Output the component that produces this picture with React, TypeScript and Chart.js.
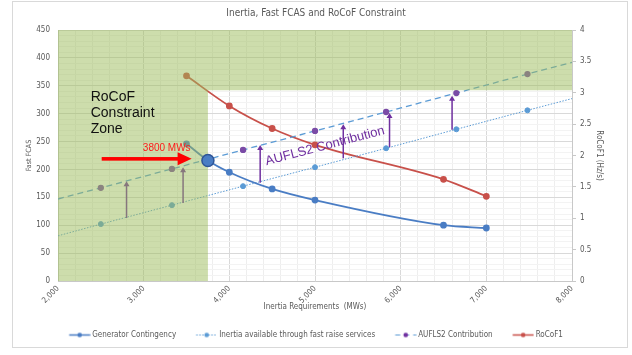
import React, { useEffect, useRef } from 'react';
import { Chart, registerables } from 'chart.js';

Chart.register(...registerables);

// ---------- data ----------
const titleText = 'Inertia, Fast FCAS and RoCoF Constraint';
const xTitle = 'Inertia Requirements  (MWs)';
const yTitle = 'Fast FCAS';
const y1Title = 'RoCoF1 (Hz/s)';

const genX = [3500, 3750, 4000, 4500, 5000, 6500, 7000];
const genY = [246, 216, 195, 165, 145, 100, 95];

const crossX = [3750];
const crossY = [216];

const inertiaX = [2000, 2500, 3330, 4160, 5000, 5830, 6650, 7480, 8000];
const inertiaY = [81, 102, 136, 170, 204, 238, 272, 306, 327];

const auflsX = [2000, 2500, 3330, 4160, 5000, 5830, 6650, 7480, 8000];
const auflsY = [147, 167, 201, 235, 269, 303, 337, 371, 392];

const rocofX = [3500, 4000, 4500, 5000, 6500, 7000];
const rocofY = [3.27, 2.79, 2.43, 2.17, 1.62, 1.35];

const arrowX = [2800, 3460, 4360, 5330, 5870, 6600];
const arrowFrom = [113, 140, 176, 220, 240, 271];
const arrowTo = [179, 204, 244, 281, 301, 332];

const zoneRightX = 3750;
const zoneBottomY = 342;

const zoneLabel = ['RoCoF', 'Constraint', 'Zone'];
const zoneLabelAt = { x: 2382, y: 329 };
const mwLabel = '3800 MWs';
const mwLabelAt = { x: 3269, y: 238 };
const redArrow = { x0: 2510, x1: 3560, y: 219 };
const contribLabel = 'AUFLS2 Contribution';
const contribAt = { x: 5117, y: 242 };

const legendNames = [
  'Generator Contingency',
  'Inertia available through fast raise services',
  'AUFLS2 Contribution',
  'RoCoF1',
];

// ---------- style ----------
const NARROW = '"DejaVu Sans Condensed", "Liberation Sans Narrow", sans-serif';
const SANS = '"Liberation Sans", Arial, sans-serif';
const TXT = '#595959';
const C_GEN = '#4a7dc4';
const C_INERTIA = '#5b9bd5';
const C_PURPLE = '#7030a0';
const C_RED = '#c8504a';
const MARKER_INDEX = 1;

const toXY = (xs: number[], ys: number[]) => xs.map((x, i) => ({ x, y: ys[i] }));

function makeIcon(line: string, point: string, dash: number[], lw: number) {
  const c = document.createElement('canvas');
  c.width = 24;
  c.height = 9;
  const g = c.getContext('2d') as CanvasRenderingContext2D;
  g.strokeStyle = line;
  g.lineWidth = lw;
  g.setLineDash(dash);
  g.beginPath();
  g.moveTo(2.5, 4.5);
  g.lineTo(23.5, 4.5);
  g.stroke();
  g.setLineDash([]);
  g.fillStyle = point;
  g.beginPath();
  g.arc(13, 4.5, 2.3, 0, Math.PI * 2);
  g.fill();
  return c;
}

function drawArrowsAndZone(chart: any) {
  const { ctx, chartArea: a } = chart;
  const x = chart.scales.x;
  const y = chart.scales.y;
  ctx.save();
  ctx.strokeStyle = C_PURPLE;
  ctx.fillStyle = C_PURPLE;
  ctx.lineWidth = 1.5;
  arrowX.forEach((v, i) => {
    const px = x.getPixelForValue(v);
    const p0 = y.getPixelForValue(arrowFrom[i]);
    const p1 = y.getPixelForValue(arrowTo[i]);
    ctx.beginPath();
    ctx.moveTo(px, p0);
    ctx.lineTo(px, p1 + 4);
    ctx.stroke();
    ctx.beginPath();
    ctx.moveTo(px, p1);
    ctx.lineTo(px - 3, p1 + 5);
    ctx.lineTo(px + 3, p1 + 5);
    ctx.closePath();
    ctx.fill();
  });
  const zx = x.getPixelForValue(zoneRightX);
  const zy = y.getPixelForValue(zoneBottomY);
  ctx.fillStyle = 'rgba(155,187,89,0.5)';
  ctx.beginPath();
  ctx.moveTo(a.left, a.top);
  ctx.lineTo(a.right, a.top);
  ctx.lineTo(a.right, zy);
  ctx.lineTo(zx, zy);
  ctx.lineTo(zx, a.bottom);
  ctx.lineTo(a.left, a.bottom);
  ctx.closePath();
  ctx.fill();
  ctx.restore();
}

const overlayPlugin = {
  id: 'overlayPlugin',
  beforeDraw(chart: any) {
    const ctx = chart.ctx;
    ctx.save();
    ctx.strokeStyle = '#d9d9d9';
    ctx.lineWidth = 1;
    ctx.strokeRect(12.5, 1.5, 615, 346);
    ctx.restore();
  },
  beforeDatasetDraw(chart: any, args: any) {
    if (args.index === MARKER_INDEX) drawArrowsAndZone(chart);
  },
  afterDatasetsDraw(chart: any) {
    const { ctx } = chart;
    const x = chart.scales.x;
    const y = chart.scales.y;
    ctx.save();
    // zone label
    ctx.fillStyle = '#111111';
    ctx.font = '14px ' + SANS;
    ctx.textAlign = 'left';
    ctx.textBaseline = 'middle';
    const lx = x.getPixelForValue(zoneLabelAt.x);
    const ly = y.getPixelForValue(zoneLabelAt.y);
    zoneLabel.forEach((t, i) => ctx.fillText(t, lx, ly + i * 16));
    // 3800 MWs
    ctx.fillStyle = '#ff1a1a';
    ctx.font = '10px ' + SANS;
    ctx.textAlign = 'center';
    ctx.fillText(mwLabel, x.getPixelForValue(mwLabelAt.x), y.getPixelForValue(mwLabelAt.y));
    // red arrow
    const ax0 = x.getPixelForValue(redArrow.x0);
    const ax1 = x.getPixelForValue(redArrow.x1);
    const ay = y.getPixelForValue(redArrow.y);
    ctx.fillStyle = '#ff0000';
    ctx.fillRect(ax0, ay - 1.8, ax1 - ax0 - 12, 3.6);
    ctx.beginPath();
    ctx.moveTo(ax1, ay);
    ctx.lineTo(ax1 - 14, ay - 6.5);
    ctx.lineTo(ax1 - 14, ay + 6.5);
    ctx.closePath();
    ctx.fill();
    // AUFLS2 Contribution label
    ctx.fillStyle = C_PURPLE;
    ctx.font = '13px ' + SANS;
    ctx.translate(x.getPixelForValue(contribAt.x), y.getPixelForValue(contribAt.y));
    ctx.rotate((-14.8 * Math.PI) / 180);
    ctx.textAlign = 'center';
    ctx.fillText(contribLabel, 0, 0);
    ctx.restore();
  },
};

export default function App() {
  const ref = useRef<HTMLCanvasElement | null>(null);

  useEffect(() => {
    const canvas = ref.current;
    if (!canvas) return;
    const icons: any = {
      0: makeIcon(C_GEN, C_GEN, [], 1.5),
      2: makeIcon(C_INERTIA, C_INERTIA, [1.5, 1.5], 1),
      3: makeIcon(C_INERTIA, C_PURPLE, [5, 4], 1.2),
      4: makeIcon(C_RED, C_RED, [], 1.5),
    };
    const chart = new Chart(canvas, {
      type: 'line',
      data: {
        datasets: [
          {
            label: legendNames[0],
            data: toXY(genX, genY),
            borderColor: C_GEN,
            backgroundColor: C_GEN,
            pointBackgroundColor: C_GEN,
            pointBorderColor: C_GEN,
            borderWidth: 1.8,
            pointRadius: 2.5,
            cubicInterpolationMode: 'monotone',
            yAxisID: 'y',
          },
          {
            label: '',
            data: toXY(crossX, crossY),
            showLine: false,
            pointRadius: 6,
            pointBackgroundColor: C_GEN,
            pointBorderColor: '#2f5597',
            pointBorderWidth: 1.5,
            yAxisID: 'y',
            order: -1,
          },
          {
            label: legendNames[1],
            data: toXY(inertiaX, inertiaY),
            borderColor: C_INERTIA,
            backgroundColor: C_INERTIA,
            pointBackgroundColor: C_INERTIA,
            pointBorderColor: C_INERTIA,
            borderWidth: 1,
            borderDash: [1.5, 1.5],
            pointRadius: (c: any) => (c.dataIndex === 0 || c.dataIndex === inertiaX.length - 1 ? 0 : 2.5),
            yAxisID: 'y',
          },
          {
            label: legendNames[2],
            data: toXY(auflsX, auflsY),
            borderColor: C_INERTIA,
            backgroundColor: C_PURPLE,
            pointBackgroundColor: '#7a4ba6',
            pointBorderColor: '#7a4ba6',
            borderWidth: 1.3,
            borderDash: [6, 4],
            pointRadius: (c: any) => (c.dataIndex === 0 || c.dataIndex === auflsX.length - 1 ? 0 : 2.5),
            yAxisID: 'y',
          },
          {
            label: legendNames[3],
            data: toXY(rocofX, rocofY),
            borderColor: C_RED,
            backgroundColor: C_RED,
            pointBackgroundColor: C_RED,
            pointBorderColor: C_RED,
            borderWidth: 1.8,
            pointRadius: 2.5,
            cubicInterpolationMode: 'monotone',
            yAxisID: 'y1',
          },
        ],
      } as any,
      options: {
        responsive: false,
        animation: false,
        devicePixelRatio: 1,
        layout: { padding: { left: 24, right: 24, top: 0, bottom: 6 } },
        plugins: {
          tooltip: { enabled: false },
          title: {
            display: true,
            text: titleText,
            color: TXT,
            font: { family: NARROW, size: 10, weight: 'normal' },
            padding: { top: 7.3, bottom: 10.7 },
          },
          legend: {
            position: 'bottom',
            labels: {
              usePointStyle: true,
              pointStyleWidth: 19,
              padding: 20,
              color: TXT,
              font: { family: NARROW, size: 8 },
              generateLabels: (ch: any) => {
                const items = (Chart.defaults.plugins.legend.labels as any).generateLabels(ch);
                return items
                  .filter((it: any) => it.text)
                  .map((it: any) => ({ ...it, pointStyle: icons[it.datasetIndex] }));
              },
            },
          },
        },
        scales: {
          x: {
            type: 'linear',
            position: 'bottom',
            min: 2000,
            max: 8000,
            afterFit: (s: any) => {
              s.height = 30;
            },
            ticks: {
              stepSize: 200,
              autoSkip: false,
              minRotation: 45,
              maxRotation: 45,
              padding: 3,
              color: TXT,
              font: { family: NARROW, size: 8 },
              callback: (v: any) => (Math.round(v) % 1000 === 0 ? Math.round(v).toLocaleString('en-US') : ''),
            },
            grid: {
              drawTicks: false,
              color: (c: any) => (c.tick && Math.round(c.tick.value) % 1000 === 0 ? '#d9d9d9' : '#eeeeee'),
            },
            border: { color: '#c8c8c8' },
            title: {
              display: true,
              text: xTitle,
              color: TXT,
              font: { family: NARROW, size: 8 },
              padding: { top: 0, bottom: -0.8 },
            },
          },
          y: {
            type: 'linear',
            position: 'left',
            min: 0,
            max: 450,
            afterFit: (s: any) => {
              s.width = 34;
            },
            ticks: {
              stepSize: 10,
              autoSkip: false,
              padding: 8,
              color: TXT,
              font: { family: NARROW, size: 8 },
              callback: (v: any) => (Math.round(v) % 50 === 0 ? String(Math.round(v)) : ''),
            },
            grid: {
              drawTicks: false,
              color: (c: any) => (c.tick && Math.round(c.tick.value) % 50 === 0 ? '#d9d9d9' : '#f3f3f3'),
            },
            border: { color: '#c8c8c8' },
            title: {
              display: true,
              text: yTitle,
              color: TXT,
              font: { family: NARROW, size: 7.2 },
              padding: { top: 1.2, bottom: 0 },
            },
          },
          y1: {
            type: 'linear',
            position: 'right',
            min: 0,
            max: 4,
            afterFit: (s: any) => {
              s.width = 36;
            },
            ticks: {
              stepSize: 0.5,
              padding: 4,
              color: TXT,
              font: { family: NARROW, size: 8 },
              callback: (v: any) => String(Math.round(v * 10) / 10),
            },
            grid: { drawOnChartArea: false, drawTicks: true, tickLength: 4, color: '#c8c8c8' },
            border: { color: '#c8c8c8' },
            title: {
              display: true,
              text: y1Title,
              color: TXT,
              font: { family: NARROW, size: 8 },
              padding: { top: 4.2, bottom: 0 },
            },
          },
        },
      } as any,
      plugins: [overlayPlugin as any],
    });
    return () => chart.destroy();
  }, []);

  return (
    <div style={{ position: 'absolute', left: 0, top: 0, width: 632, height: 355, background: '#ffffff' }}>
      <canvas ref={ref} width={632} height={355} style={{ display: 'block' }} />
    </div>
  );
}
